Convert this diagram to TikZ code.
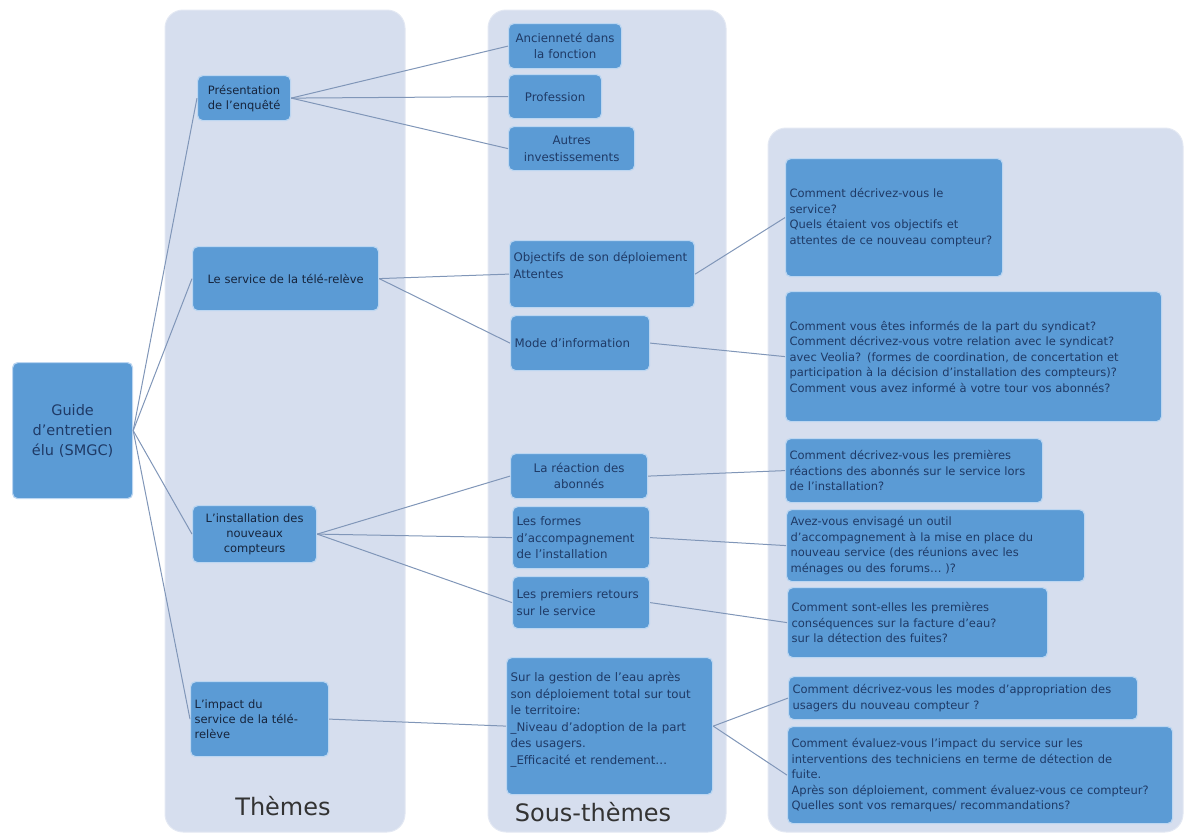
\documentclass[tikz,border=0pt]{standalone}
\usepackage{fontspec}
\setmainfont{DejaVu Sans}
\definecolor{panelfill}{HTML}{D6DEEE}
\definecolor{paneledge}{HTML}{E3E8F3}
\definecolor{boxfill}{HTML}{5B9BD5}
\definecolor{boxedge}{HTML}{BCD6F1}
\definecolor{boxtext}{HTML}{1F3A66}
\definecolor{themetext}{HTML}{16243C}
\definecolor{linkline}{HTML}{8096B8}

\begin{document}
\begin{tikzpicture}[x=1pt, y=-1pt,
  panel/.style={fill=panelfill, draw=paneledge, line width=1pt, rounded corners=18pt},
  idea/.style={draw=boxedge, fill=boxfill, line width=1.2pt, rounded corners=5pt,
    anchor=north west, inner xsep=4pt, inner ysep=4pt, text=boxtext},
  guide/.style={idea, align=center, font=\fontsize{14.5}{20}\selectfont},
  theme/.style={idea, align=center, text=themetext, font=\fontsize{11.5}{15}\selectfont},
  subtheme/.style={idea, align=center, font=\fontsize{11.8}{16.5}\selectfont},
  question/.style={idea, align=left, font=\fontsize{11.5}{15.5}\selectfont},
  title/.style={text=black!80, font=\fontsize{24}{28}\selectfont},
  link/.style={draw=linkline, line width=1pt},
  ]
	\useasboundingbox (0,0) rectangle (1184,836) ;
	\draw [panel] (165,10) rectangle (405,832) ;
	\draw [panel] (488,10) rectangle (726,832) ;
	\draw [panel] (768,128) rectangle (1183,832) ;

	\node [guide, text width=112pt, minimum height=136pt] (guide) at (12,362) {Guide\\d'entretien\\élu (SMGC)} ;

	\node [theme, text width=85pt, minimum height=45pt] (presentation) at (197,75) {Présentation\\de l'enquêté} ;
	\node [theme, text width=178pt, minimum height=64pt] (service) at (192,246) {Le service de la télé-relève} ;
	\node [theme, text width=116pt, minimum height=57pt] (installation) at (192,505) {L'installation des\\nouveaux\\compteurs} ;
	\node [theme, align=left, text width=130pt, minimum height=75pt] (impact) at (190,681) {L'impact du\\service de la télé-\\relève} ;

	\node [subtheme, text width=105pt, minimum height=45pt] (anciennete) at (508,23) {Ancienneté dans\\la fonction} ;
	\node [subtheme, text width=85pt, minimum height=44pt] (profession) at (508,74) {Profession} ;
	\node [subtheme, text width=118pt, minimum height=44pt] (autres) at (508,126) {Autres\\investissements} ;
	\node [subtheme, align=left, text width=177pt, text height=17pt, text depth=42pt] (objectifs) at (509,240) {Objectifs de son déploiement\\Attentes} ;
	\node [subtheme, align=left, text width=131pt, minimum height=55pt] (mode) at (510,315) {Mode d'information} ;
	\node [subtheme, text width=129pt, minimum height=45pt] (reaction) at (510,453) {La réaction des\\abonnés} ;
	\node [subtheme, align=left, text width=129pt, minimum height=62pt] (formes) at (512,506) {Les formes\\d'accompagnement\\de l'installation} ;
	\node [subtheme, align=left, text width=129pt, minimum height=52pt] (retours) at (512,576) {Les premiers retours\\sur le service} ;
	\node [subtheme, align=left, text width=198pt, text height=20pt, text depth=109pt] (gestion) at (506,657) {Sur la gestion de l'eau après\\son déploiement total sur tout\\le territoire:\\\_Niveau d'adoption de la part\\des usagers.\\\_Efficacité et rendement…} ;

	\node [question, text width=209pt, minimum height=118pt] (q1) at (785,158) {Comment décrivez-vous le\\service?\\Quels étaient vos objectifs et\\attentes de ce nouveau compteur?} ;
	\node [question, text width=368pt, minimum height=130pt] (q2) at (785,291) {Comment vous êtes informés de la part du syndicat?\\Comment décrivez-vous votre relation avec le syndicat?\\avec Veolia? (formes de coordination, de concertation et\\participation à la décision d'installation des compteurs)?\\Comment vous avez informé à votre tour vos abonnés?} ;
	\node [question, text width=249pt, minimum height=64pt] (q3) at (785,438) {Comment décrivez-vous les premières\\réactions des abonnés sur le service lors\\de l'installation?} ;
	\node [question, text width=290pt, minimum height=72pt] (q4) at (786,509) {Avez-vous envisagé un outil\\d'accompagnement à la mise en place du\\nouveau service (des réunions avec les\\ménages ou des forums… )?} ;
	\node [question, text width=252pt, minimum height=70pt] (q5) at (787,587) {Comment sont-elles les premières\\conséquences sur la facture d'eau?\\sur la détection des fuites?} ;
	\node [question, text width=341pt, minimum height=43pt] (q6) at (788,676) {Comment décrivez-vous les modes d'appropriation des\\usagers du nouveau compteur ?} ;
	\node [question, text width=377pt, minimum height=97pt] (q7) at (787,726) {Comment évaluez-vous l'impact du service sur les\\interventions des techniciens en terme de détection de\\fuite.\\Après son déploiement, comment évaluez-vous ce compteur?\\Quelles sont vos remarques/ recommandations?} ;

	\node [title] (themes) at (283,806) {Thèmes} ;
	\node [title] (sousthemes) at (593,812) {Sous-thèmes} ;

	\draw [link] (guide.east) -- (presentation.west) ;
	\draw [link] (guide.east) -- (service.west) ;
	\draw [link] (guide.east) -- (installation.west) ;
	\draw [link] (guide.east) -- (impact.west) ;
	\draw [link] (presentation.east) -- (anciennete.west) ;
	\draw [link] (presentation.east) -- (profession.west) ;
	\draw [link] (presentation.east) -- (autres.west) ;
	\draw [link] (service.east) -- (objectifs.west) ;
	\draw [link] (service.east) -- (mode.west) ;
	\draw [link] (installation.east) -- (reaction.west) ;
	\draw [link] (installation.east) -- (formes.west) ;
	\draw [link] (installation.east) -- (retours.west) ;
	\draw [link] (impact.east) -- (gestion.west) ;
	\draw [link] (objectifs.east) -- (q1.west) ;
	\draw [link] (mode.east) -- (q2.west) ;
	\draw [link] (reaction.east) -- (q3.west) ;
	\draw [link] (formes.east) -- (q4.west) ;
	\draw [link] (retours.east) -- (q5.west) ;
	\draw [link] (gestion.east) -- (q6.west) ;
	\draw [link] (gestion.east) -- (q7.west) ;
\end{tikzpicture}
\end{document}
